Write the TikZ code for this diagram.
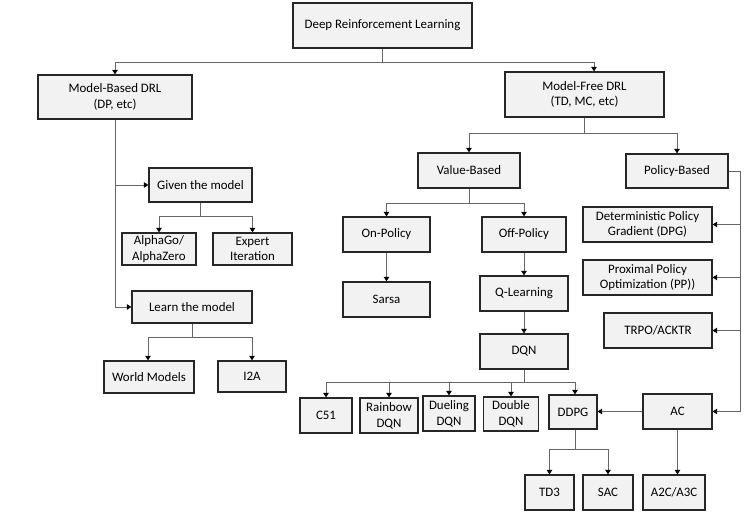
\documentclass[tikz,border=0pt]{standalone}
\usepackage{fontspec}
\setmainfont{Carlito}
\usetikzlibrary{arrows.meta}
\definecolor{boxfill}{HTML}{F2F2F2}
\definecolor{boxline}{HTML}{262626}
\definecolor{connline}{HTML}{666666}
\tikzset{
  box/.style={draw=boxline, fill=boxfill, line width=1.3pt, inner sep=0pt, align=center,
    font=\fontsize{12.9}{15.8}\selectfont, text=black},
  conn/.style={draw=connline, line width=0.9pt, -{Triangle[black,width=5.5pt,length=4.5pt]}},
  plain/.style={draw=connline, line width=0.9pt}
}
\newcommand{\bx}[6]{\node[box, minimum width=#4, minimum height=#5] (#1) at (#2,#3) {#6};}
\begin{document}
\begin{tikzpicture}[x=1pt,y=-1pt]
\useasboundingbox (0,0) rectangle (745,514);
\bx{root}{382.5}{25.5}{179pt}{45pt}{Deep Reinforcement Learning}
\bx{mb}{115}{97}{154pt}{44pt}{Model-Based DRL\\(DP, etc)}
\bx{mf}{584.5}{94.5}{159pt}{45pt}{Model-Free DRL\\(TD, MC, etc)}
\bx{vb}{469}{170.5}{102pt}{35pt}{Value-Based}
\bx{pb}{677}{171}{102pt}{34pt}{Policy-Based}
\bx{onp}{386.5}{234.5}{87pt}{35pt}{On-Policy}
\bx{offp}{524}{234.5}{84pt}{35pt}{Off-Policy}
\bx{sarsa}{386.5}{299.5}{87pt}{35pt}{Sarsa}
\bx{ql}{524}{293.5}{88pt}{35pt}{Q-Learning}
\bx{dqn}{524}{351.5}{88pt}{35pt}{DQN}
\bx{c51}{326}{415.5}{52pt}{35pt}{C51}
\bx{rainbow}{389}{415.5}{58pt}{35pt}{Rainbow\\DQN}
\bx{dueling}{449}{413.5}{52pt}{35pt}{Dueling\\DQN}
\bx{double}{511}{414}{55pt}{34pt}{Double\\DQN}
\bx{ddpg}{573}{412}{48pt}{34pt}{DDPG}
\bx{td3}{549.5}{492.5}{49pt}{35pt}{TD3}
\bx{sac}{608}{492.5}{50pt}{35pt}{SAC}
\bx{a2c}{674}{492.5}{62pt}{35pt}{A2C/A3C}
\bx{ac}{677.5}{411.5}{69pt}{35pt}{AC}
\bx{dpg}{647.5}{224.5}{129pt}{35pt}{Deterministic Policy\\Gradient (DPG)}
\bx{ppo}{647.5}{277.5}{129pt}{35pt}{Proximal Policy\\Optimization (PP))}
\bx{trpo}{658}{330.5}{108pt}{35pt}{TRPO/ACKTR}
\bx{given}{200.5}{185}{103pt}{34pt}{Given the model}
\bx{alpha}{159}{249}{74pt}{32pt}{AlphaGo/\\AlphaZero}
\bx{expert}{252.5}{249}{79pt}{32pt}{Expert\\Iteration}
\bx{learn}{192}{307}{120pt}{32pt}{Learn the model}
\bx{world}{149}{377}{90pt}{32pt}{World Models}
\bx{i2a}{252}{376.5}{68pt}{31pt}{I2A}
\coordinate (rv) at (740,0);
% root
\draw[conn] (root.south) -- ++(0,14) -| (mb.north);
\draw[conn] (root.south) -- ++(0,14) -| ([xshift=9.5pt]mf.north);
% model-free
\draw[conn] (mf.south) -- ++(0,16) -| (vb.north);
\draw[conn] (mf.south) -- ++(0,16) -| (pb.north);
% value-based
\draw[conn] (vb.south) -- ++(0,15) -| (onp.north);
\draw[conn] (vb.south) -- ++(0,15) -| (offp.north);
\draw[conn] (onp.south) -- (sarsa.north);
\draw[conn] (offp.south) -- (ql.north);
\draw[conn] (ql.south) -- (dqn.north);
\draw[conn] (dqn.south) -- ++(0,13) -| (c51.north);
\draw[conn] (dqn.south) -- ++(0,13) -| (rainbow.north);
\draw[conn] (dqn.south) -- ++(0,13) -| (dueling.north);
\draw[conn] (dqn.south) -- ++(0,13) -| (double.north);
\draw[conn] (dqn.south) -- ++(0,13) -| ([xshift=2pt]ddpg.north);
\draw[conn] ([xshift=2pt]ddpg.south) -- ++(0,20) -| (td3.north);
\draw[conn] ([xshift=2pt]ddpg.south) -- ++(0,20) -| (sac.north);
% policy-based
\draw[plain] (pb.east) -- (pb.east -| rv);
\draw[conn] (pb.east -| rv) |- (ac.east);
\draw[conn] (dpg.east -| rv) -- (dpg.east);
\draw[conn] (ppo.east -| rv) -- (ppo.east);
\draw[conn] (trpo.east -| rv) -- (trpo.east);
\draw[conn] (ac.west) -- (ac.west -| ddpg.east);
\draw[conn] (ac.south) -- (ac.south |- a2c.north);
% model-based
\draw[conn] (mb.south) |- (given.west);
\draw[conn] (mb.south) |- (learn.west);
\draw[conn] (given.south) -- ++(0,14) -| (alpha.north);
\draw[conn] (given.south) -- ++(0,14) -| (expert.north);
\draw[conn] (learn.south) -- ++(0,14) -| ([xshift=-1pt]world.north);
\draw[conn] (learn.south) -- ++(0,14) -| (i2a.north);
\end{tikzpicture}
\end{document}
